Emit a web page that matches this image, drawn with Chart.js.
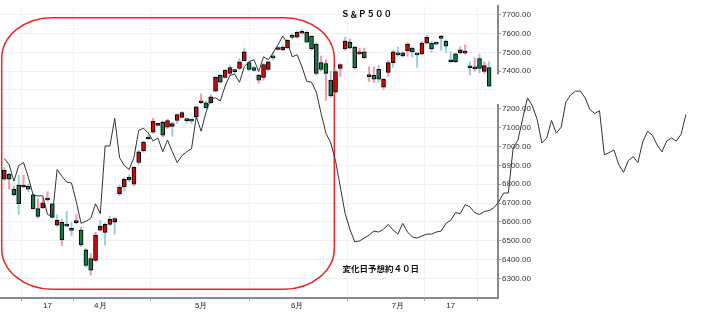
<!DOCTYPE html>
<html><head><meta charset="utf-8">
<script src="https://cdn.jsdelivr.net/npm/chart.js@4.4.1/dist/chart.umd.min.js"></script>
<style>html,body{margin:0;padding:0;background:#fff}#wrap{width:706px;height:312px;position:relative}</style>
</head><body><div id="wrap"><canvas id="c" width="706" height="312"></canvas></div>
<script>
// ---- data (index = trading day, 0 = first candle) ----
const opens  = [6826,6852,6774,6795,6795,6790,6743,6670,6675,6717,6696,6582,6598,6578,6557,6596,6556,6452,6405,6395,
                6556,6544,6587,6598,6748,6785,6837,6800,6915,6977,7040,7076,7112,7128,7102,7107,7138,7154,7138,7136,
                7159,7232,7232,7232,7294,7378,7367,7388,7398,7414,7455,7445,7419,7378,7367,7409,7471,7515,7512,7523,
                7580,7580,7601,7606,7585,7544,7445,7440,7352,7289,7414,7518,7554,7528,7492,7502,7372,7378,7409,7315,
                7393,7445,7487,7497,7507,7523,7487,7492,7549,7549,7544,7575,7560,7460,7492,7497,7497,7419,7416,7466,
                7398,7419];
const closes = [6873,6826,6743,6696,6785,6774,6670,6629,6701,6716,6623,6608,6504,6577,6555,6600,6478,6369,6343,6530,
                6577,6587,6613,6618,6785,6826,6822,6889,6972,7024,7041,7133,7113,7060,7138,7122,7170,7180,7137,7135,
                7211,7233,7206,7263,7367,7341,7404,7419,7397,7450,7502,7409,7404,7352,7435,7450,7470,7523,7528,7564,
                7579,7606,7611,7554,7518,7388,7409,7388,7268,7398,7435,7560,7523,7419,7502,7471,7371,7357,7357,7357,
                7445,7502,7486,7481,7544,7502,7486,7549,7580,7518,7543,7574,7533,7450,7450,7513,7496,7418,7412,7414,
                7429,7320];
const highs  = [6889,6858,6790,6847,6847,6800,6750,6722,6725,6759,6700,6639,6613,6655,6598,6640,6571,6460,6431,6545,
                6608,6595,6629,6625,6795,6835,6850,6895,6980,7030,7060,7149,7118,7135,7145,7130,7175,7185,7150,7145,
                7215,7279,7240,7275,7372,7385,7410,7430,7410,7466,7523,7455,7425,7383,7440,7455,7502,7530,7535,7570,
                7600,7612,7620,7612,7590,7550,7480,7460,7400,7405,7440,7580,7570,7533,7523,7523,7423,7423,7430,7362,
                7455,7510,7528,7502,7550,7528,7490,7555,7590,7560,7550,7590,7565,7502,7497,7530,7540,7450,7470,7490,
                7450,7450];
const lows   = [6820,6774,6738,6639,6780,6760,6665,6620,6670,6710,6620,6575,6473,6575,6525,6590,6470,6360,6317,6390,
                6550,6478,6580,6535,6740,6764,6815,6790,6905,6970,7035,7070,7108,7050,7095,7055,7122,7150,7125,7122,
                7150,7228,7200,7228,7290,7336,7362,7383,7385,7409,7450,7400,7398,7335,7352,7400,7460,7510,7508,7518,
                7570,7575,7596,7549,7510,7380,7400,7245,7260,7280,7372,7510,7518,7410,7488,7465,7346,7340,7340,7300,
                7372,7420,7480,7476,7480,7475,7420,7487,7544,7500,7538,7510,7500,7445,7445,7492,7490,7380,7400,7390,
                7388,7318];
const wickTone = "bppbpbbpppbbpbbppbppbbbbbbbbbbbpbppbbbbbppbbbbbbbbbbbppbbbbbbbbbbpppbbpbppppppbbpbbppbbpbbbbbbpbpbpbp";
// forecast line (cycle shifted ~40 trading days), index 0..142
const forecast = [6936,6904,6816,6899,6915,6837,6743,6738,6738,6639,6629,6878,6842,6811,6806,6707,6592,6603,6618,6696,
                  6644,7003,7003,7149,6941,6899,6878,6941,7086,7097,7071,7029,7045,6972,7034,6972,6915,6951,6972,6988,
                  7159,7081,7180,7253,7258,7242,7320,7378,7383,7341,7424,7450,7461,7398,7476,7461,7497,7539,7586,7549,
                  7476,7487,7424,7346,7341,7289,7175,7071,7019,6925,6785,6644,6561,6494,6499,6514,6530,6551,6546,6561,
                  6587,6556,6535,6592,6546,6520,6514,6525,6535,6535,6546,6551,6592,6608,6649,6644,6691,6680,6649,6639,
                  6655,6660,6675,6706,6753,6753,6992,7034,7149,7258,7216,7144,7019,7045,7138,7071,7102,7237,7274,7294,
                  7294,7258,7196,7175,7190,6956,6967,6982,6904,6863,6925,6946,6915,7024,7081,7060,7008,6972,7029,7045,
                  7029,7065,7170];
const xTickIndex = [9, 20, 41, 61, 82, 93];
const xTickText  = ['17', '4月', '5月', '6月', '7月', '17'];
const yTickValues = [6300,6400,6500,6600,6700,6800,6900,7000,7100,7200,7300,7400,7500,7600,7700];
const yHiddenLabel = 7300;
const titleText = 'Ｓ＆Ｐ５００';
const noteText = '変化日予想約４０日';

// ---- chart ----
const UP = '#cc0808', DOWN = '#137a4b', WICK_B = '#9ccfdc', WICK_P = '#f29aac';
const idx = opens.map((_, i) => i);

const annot = {
  id: 'annot',
  beforeDatasetsDraw(chart) {
    const {ctx} = chart, xs = chart.scales.x, ys = chart.scales.y;
    ctx.save();
    ctx.fillStyle = '#fff';
    const gy1 = ys.getPixelForValue(7382), gy2 = ys.getPixelForValue(7226);
    ctx.fillRect(xs.right - 1.5, gy1, 48, gy2 - gy1);
    ctx.restore();
    const L = xs.getPixelForValue(-0.55), R = xs.getPixelForValue(68.75);
    const T = ys.getPixelForValue(7684), B = ys.getPixelForValue(6243);
    const rx = 50, ry = 41, k = 0.5523;
    ctx.save();
    ctx.strokeStyle = '#e8262d';
    ctx.lineWidth = 1.5;
    ctx.beginPath();
    ctx.moveTo(L + rx, T);
    ctx.lineTo(R - rx, T);
    ctx.bezierCurveTo(R - rx + rx * k, T, R, T + ry - ry * k, R, T + ry);
    ctx.lineTo(R, B - ry);
    ctx.bezierCurveTo(R, B - ry + ry * k, R - rx + rx * k, B, R - rx, B);
    ctx.lineTo(L + rx, B);
    ctx.bezierCurveTo(L + rx - rx * k, B, L, B - ry + ry * k, L, B - ry);
    ctx.lineTo(L, T + ry);
    ctx.bezierCurveTo(L, T + ry - ry * k, L + rx - rx * k, T, L + rx, T);
    ctx.closePath();
    ctx.stroke();
    ctx.restore();
  },
  afterDatasetsDraw(chart) {
    const {ctx} = chart;
    ctx.save();
    ctx.fillStyle = '#111';
    ctx.textBaseline = 'middle';
    ctx.textAlign = 'left';
    ctx.font = 'bold 8.5px "Noto Sans CJK JP", sans-serif';
    ctx.fillText(titleText, 341, 14);
    ctx.fillText(noteText, 342.5, 269);
    ctx.restore();
  }
};

Chart.defaults.font.family = '"Liberation Sans", Arial, sans-serif';

new Chart(document.getElementById('c'), {
  type: 'bar',
  data: {
    datasets: [
      {
        type: 'line',
        data: forecast.map((v, i) => ({x: i, y: v})),
        borderColor: '#333',
        borderWidth: 1,
        pointRadius: 0,
        tension: 0,
        clip: false,
        order: 0
      },
      {
        type: 'bar',
        data: idx.map(i => ({x: i, y: [opens[i], closes[i]]})),
        backgroundColor: idx.map(i => closes[i] >= opens[i] ? UP : DOWN),
        borderColor: '#000',
        borderWidth: 1,
        borderSkipped: false,
        barThickness: 4,
        minBarLength: 2,
        grouped: false,
        order: 1
      },
      {
        type: 'bar',
        data: idx.map(i => ({x: i, y: [lows[i], highs[i]]})),
        backgroundColor: idx.map(i => wickTone[i] === 'p' ? WICK_P : WICK_B),
        borderWidth: 0,
        barThickness: 1.4,
        grouped: false,
        order: 2
      }
    ]
  },
  options: {
    responsive: false,
    animation: false,
    devicePixelRatio: 1,
    layout: {padding: 0},
    plugins: {legend: {display: false}, tooltip: {enabled: false}},
    scales: {
      x: {
        type: 'linear',
        position: 'bottom',
        bounds: 'data',
        offset: false,
        afterDataLimits(s) { s.min = -0.9; s.max = 102.85; },
        afterBuildTicks(s) { s.ticks = xTickIndex.map(v => ({value: v})); },
        afterFit(s) { s.height = 14; },
        ticks: {
          autoSkip: false, maxRotation: 0, padding: 0,
          color: '#222', font: {size: 8},
          callback: v => { const k = xTickIndex.indexOf(v); return k >= 0 ? xTickText[k] : ''; }
        },
        grid: {color: '#f3f3f3', tickColor: '#aaa', tickLength: 3},
        border: {color: '#8a8a8a', width: 2}
      },
      y: {
        type: 'linear',
        position: 'right',
        bounds: 'data',
        afterDataLimits(s) { s.min = 6195.9; s.max = 7746.8; },
        afterBuildTicks(s) { s.ticks = yTickValues.map(v => ({value: v})); },
        afterFit(s) { s.width = 208; },
        ticks: {
          padding: 1, color: '#333', font: {size: 8},
          callback: v => v === yHiddenLabel ? '' : v.toFixed(2)
        },
        grid: {color: '#f0f0f0', tickColor: '#999', tickLength: 3},
        border: {color: '#8a8a8a', width: 2}
      }
    }
  },
  plugins: [annot]
});
</script></body></html>
